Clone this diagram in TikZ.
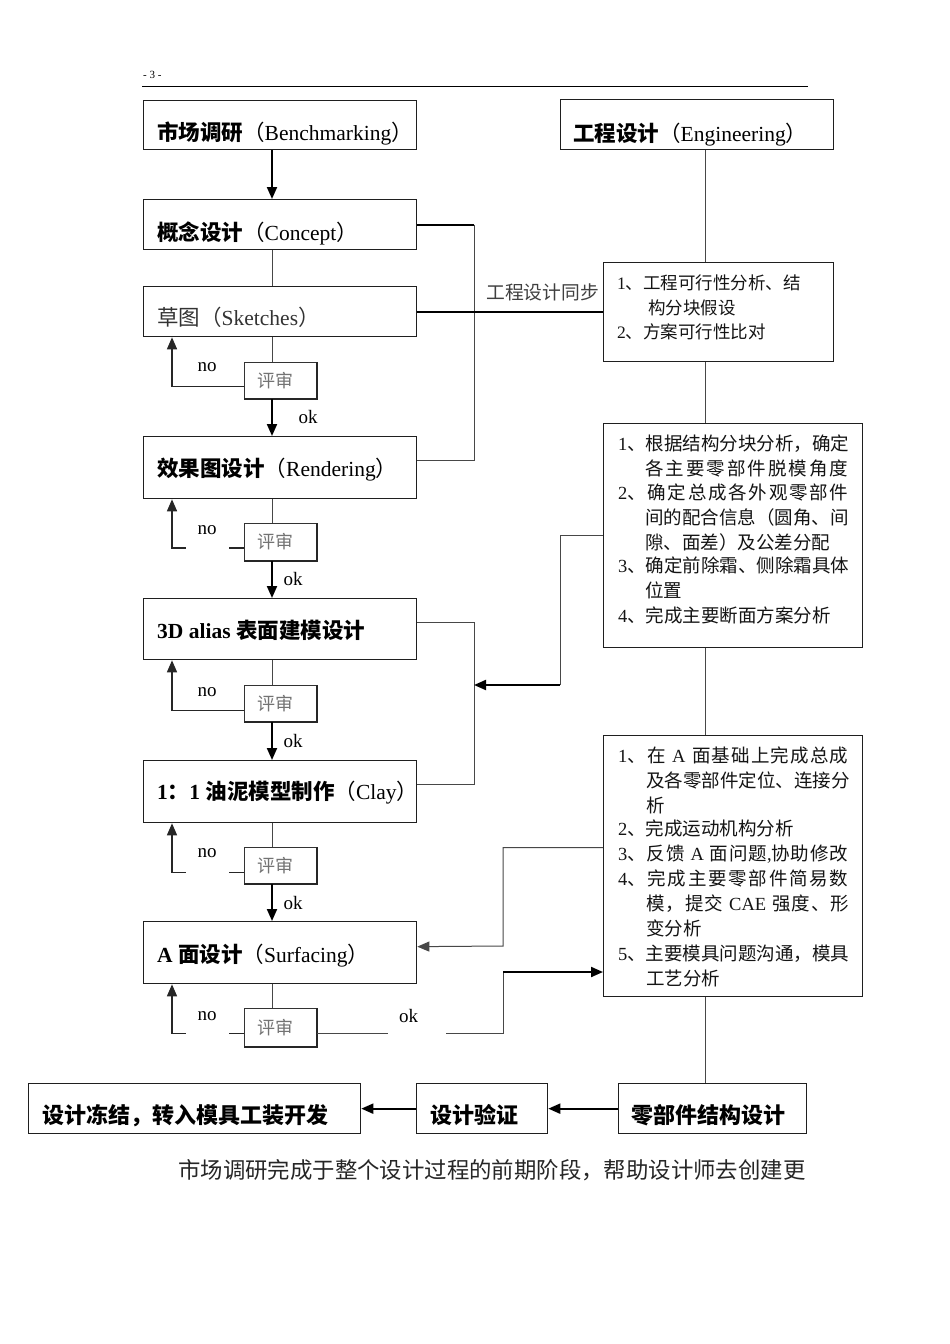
\documentclass[tikz,border=0pt]{standalone}
\usepackage{fontspec}
\setmainfont{Liberation Serif}
\newfontfamily\cjk{Noto Sans CJK SC}
\usetikzlibrary{arrows.meta}
\XeTeXinterchartokenstate=1
\ifdefined\newXeTeXintercharclass
  \newXeTeXintercharclass\cjkcls
\else
  \chardef\cjkcls=7
\fi
\makeatletter
\def\setcls#1#2{\count@=#1\relax\loop\XeTeXcharclass\count@=\cjkcls\ifnum\count@<#2\advance\count@ by 1\repeat}
\makeatother
\setcls{"4E00}{"9FFF}
\setcls{"3000}{"303F}
\setcls{"FF00}{"FFEF}
\XeTeXinterchartoks\cjkcls\cjkcls={\hskip0pt plus 1pt\relax}
\newcommand\latn[1]{{\rmfamily #1}}
\newcommand\jb[2]{\makebox[#1pt][s]{#2}}
\tikzset{
  box/.style={draw=black!88, line width=1.3pt, inner sep=0pt, anchor=north west},
  rvbox/.style={draw=black!80, line width=1pt, inner sep=0pt, anchor=north west,
    font=\cjk\fontsize{18}{20}\selectfont, text=black!55},
  ttl/.style={anchor=base west, inner sep=0pt, font=\fontsize{21.5}{26}\selectfont},
  body/.style={anchor=base west, inner sep=0pt, font=\fontsize{18.5}{22}\selectfont\cjk, text=black!92},
  bodys/.style={anchor=base west, inner sep=0pt, font=\fontsize{17.5}{22}\selectfont\cjk, text=black!92},
  lbl/.style={inner sep=0pt, font=\fontsize{19}{22}\selectfont},
  conn/.style={draw=black!72, line width=1pt},
  thk/.style={draw=black, line width=2pt},
  lp/.style={draw=black!85, line width=1.5pt},
  arr/.style={-{Triangle[length=12pt 0 0,width=10pt 0 0]}},
}
\begin{document}
\begin{tikzpicture}[x=1pt,y=-1pt]
\fill[white] (0,0) rectangle (950,1344);
\useasboundingbox (0,0) rectangle (950,1344);

% header
\node[anchor=west, inner sep=0pt, font=\fontsize{11}{12}\selectfont] (pg) at (143,75) {- 3 -};
\draw[line width=0.8pt] (142,86) -- (808,86);

% guide coordinates
\coordinate (ax) at (272,0);
\coordinate (lx) at (172,0);
\coordinate (bx) at (474,0);
\coordinate (rx) at (705,0);
\coordinate (j1) at (560,685);
\coordinate (j2) at (503,946);
\coordinate (j3) at (503,972);

% left column boxes
\node[box, minimum width=273, minimum height=49] (b1) at (143,100) {};
\node[box, minimum width=273, minimum height=50] (b2) at (143,199) {};
\node[box, minimum width=273, minimum height=50] (b3) at (143,286) {};
\node[box, minimum width=273, minimum height=62] (b4) at (143,436) {};
\node[box, minimum width=273, minimum height=61] (b5) at (143,598) {};
\node[box, minimum width=273, minimum height=62] (b6) at (143,760) {};
\node[box, minimum width=273, minimum height=62] (b7) at (143,921) {};

\node[ttl] (t1) at (157,140) {{\cjk\bfseries 市场调研}{\cjk （}Benchmarking{\cjk ）}};
\node[ttl] (t2) at (157,240) {{\cjk\bfseries 概念设计}{\cjk （}Concept{\cjk ）}};
\node[ttl, text=black!80] (t3) at (157,325) {{\cjk 草图（}Sketches{\cjk ）}};
\node[ttl] (t4) at (157,476) {{\cjk\bfseries 效果图设计}{\cjk （}Rendering{\cjk ）}};
\node[ttl] (t5) at (157,638) {\textbf{3D alias }{\cjk\bfseries 表面建模设计}};
\node[ttl] (t6) at (157,799) {\textbf{1}{\cjk\bfseries ：}\textbf{1 }{\cjk\bfseries 油泥模型制作}{\cjk （}Clay{\cjk ）}};
\node[ttl] (t7) at (157,962) {\textbf{A }{\cjk\bfseries 面设计}{\cjk （}Surfacing{\cjk ）}};

% review boxes
\node[rvbox, minimum width=72, minimum height=36] (r1) at (244,362) {\hspace*{-10pt}评审};
\node[rvbox, minimum width=72, minimum height=37] (r2) at (244,523) {\hspace*{-10pt}评审};
\node[rvbox, minimum width=72, minimum height=36] (r3) at (244,685) {\hspace*{-10pt}评审};
\node[rvbox, minimum width=72, minimum height=36] (r4) at (244,847) {\hspace*{-10pt}评审};
\node[rvbox, minimum width=72, minimum height=38] (r5) at (244,1008) {\hspace*{-10pt}评审};
\foreach \r in {r1,r2,r3,r4,r5}
  \draw[line width=2pt, black!85] (\r.north east) -- (\r.south east) -- (\r.south west);

% right column boxes
\node[box, minimum width=273, minimum height=50] (eng) at (560,99) {};
\node[ttl] (teng) at (573,141) {{\cjk\bfseries 工程设计}{\cjk （}Engineering{\cjk ）}};
\node[box, minimum width=230, minimum height=99] (e1) at (603,262) {};
\node[box, minimum width=259, minimum height=224] (e2) at (603,423) {};
\node[box, minimum width=259, minimum height=261] (e3) at (603,735) {};

\node[bodys] (e1a) at (617,289) {\latn{1}、工程可行性分析、结};
\node[bodys] (e1b) at (648,314) {构分块假设};
\node[bodys] (e1c) at (617,338) {\latn{2}、方案可行性比对};

\node[body] (e2a) at (618,450) {\jb{231}{\latn{1}、根据结构分块分析，确定}};
\node[body] (e2b) at (645,475) {\jb{203}{各主要零部件脱模角度}};
\node[body] (e2c) at (618,499) {\jb{230}{\latn{2}、确定总成各外观零部件}};
\node[body] (e2d) at (645,524) {\jb{203}{间的配合信息（圆角、间}};
\node[body] (e2e) at (645,549) {隙、面差）及公差分配};
\node[body] (e2f) at (618,572) {\jb{231}{\latn{3}、确定前除霜、侧除霜具体}};
\node[body] (e2g) at (645,597) {位置};
\node[body] (e2h) at (618,622) {\latn{4}、完成主要断面方案分析};

\node[body] (e3a) at (618,762) {\jb{230}{\latn{1}、在 \latn{A} 面基础上完成总成}};
\node[body] (e3b) at (646,787) {\jb{203}{及各零部件定位、连接分}};
\node[body] (e3c) at (646,812) {析};
\node[body] (e3d) at (618,835) {\latn{2}、完成运动机构分析};
\node[body] (e3e) at (618,860) {\jb{230}{\latn{3}、反馈 \latn{A} 面问题\latn{,}协助修改}};
\node[body] (e3f) at (618,885) {\jb{230}{\latn{4}、完成主要零部件简易数}};
\node[body] (e3g) at (646,910) {\jb{203}{模，提交 \latn{CAE} 强度、形}};
\node[body] (e3h) at (646,935) {变分析};
\node[body] (e3i) at (618,960) {\jb{231}{\latn{5}、主要模具问题沟通，模具}};
\node[body] (e3j) at (646,985) {工艺分析};

% bottom row
\node[box, minimum width=332, minimum height=50] (f1) at (28,1083) {};
\node[box, minimum width=131, minimum height=50] (f2) at (416,1083) {};
\node[box, minimum width=188, minimum height=50] (f3) at (618,1083) {};
\node[ttl, font=\fontsize{22}{26}\selectfont] (tf1) at (42,1123) {{\cjk\bfseries 设计冻结，转入模具工装开发}};
\node[ttl, font=\fontsize{22}{26}\selectfont] (tf2) at (430,1123) {{\cjk\bfseries 设计验证}};
\node[ttl, font=\fontsize{22}{26}\selectfont] (tf3) at (631,1123) {{\cjk\bfseries 零部件结构设计}};

\node[anchor=base west, inner sep=0pt, font=\cjk\fontsize{22.4}{26}\selectfont, text=black!85] (para) at (178,1178) {市场调研完成于整个设计过程的前期阶段，帮助设计师去创建更};

% main vertical flow
\draw[thk,arr] (b1.south -| ax) -- (b2.north -| ax);
\draw[conn] (b2.south -| ax) -- (b3.north -| ax);
\draw[conn] (b3.south -| ax) -- (r1.north -| ax);
\draw[thk,arr] (r1.south -| ax) -- (b4.north -| ax);
\draw[conn] (b4.south -| ax) -- (r2.north -| ax);
\draw[thk,arr] (r2.south -| ax) -- (b5.north -| ax);
\draw[conn] (b5.south -| ax) -- (r3.north -| ax);
\draw[thk,arr] (r3.south -| ax) -- (b6.north -| ax);
\draw[conn] (b6.south -| ax) -- (r4.north -| ax);
\draw[thk,arr] (r4.south -| ax) -- (b7.north -| ax);
\draw[conn] (b7.south -| ax) -- (r5.north -| ax);

% no loops
\draw[lp,arr] ([yshift=-6]r1.west) -| (b3.south -| lx);
\draw[lp,arr] ([yshift=-6]r2.west) -| (b4.south -| lx);
\draw[lp,arr] ([yshift=-7]r3.west) -| (b5.south -| lx);
\draw[lp,arr] ([yshift=-7]r4.west) -| (b6.south -| lx);
\draw[lp,arr] ([yshift=-6]r5.west) -| (b7.south -| lx);

% labels
\node[lbl] (no1) at (207,367) {no};
\node[lbl, fill=white, minimum width=43, minimum height=42] (no2) at (207,530) {no};
\node[lbl] (no3) at (207,692) {no};
\node[lbl, fill=white, minimum width=43, minimum height=42] (no4) at (207,853) {no};
\node[lbl] (ok1) at (308,417) {ok};
\node[lbl] (ok2) at (293,579) {ok};
\node[lbl] (ok3) at (293,741) {ok};
\node[lbl] (ok4) at (293,903) {ok};

% concept / rendering bracket
\draw[thk] (b2.east) -- (b2.east -| bx);
\draw[conn] (b2.east -| bx) -- ([yshift=7]b4.east -| bx) -- ([yshift=7]b4.east);
% sketches to engineering
\draw[thk] (b3.east) -- (b3.east -| e1.west);
\node[anchor=base west, inner sep=0pt, font=\cjk\fontsize{18.8}{22}\selectfont, text=black!75] (sync) at (486,299) {工程设计同步};

% 3D / clay bracket
\draw[conn] ([yshift=6.5]b5.east) -- ([yshift=6.5]b5.east -| bx) -- ([yshift=7]b6.east -| bx) -- ([yshift=7]b6.east);
\draw[conn] (e2.west) -| (j1);
\draw[thk,arr] (j1) -- (j1 -| bx);

% E3 connections
\draw[conn,arr] ([yshift=18.5]e3.west) -| (j2) -- ([yshift=6]b7.east);
\draw[conn] ([yshift=-6]r5.east) -| (j3);
\draw[thk,arr] (j3) -- (j3 -| e3.west);
\node[lbl, fill=white, minimum width=58, minimum height=42, text width=44, inner xsep=7pt, align=left] (ok5) at (417,1016) {\hspace*{4pt}ok};
\node[lbl, fill=white, minimum width=43, minimum height=42] (no5) at (207,1016) {no};

% right column verticals
\draw[conn] (eng.south -| rx) -- (e1.north -| rx);
\draw[conn] (e1.south -| rx) -- (e2.north -| rx);
\draw[conn] (e2.south -| rx) -- (e3.north -| rx);
\draw[conn] (e3.south -| rx) -- (f3.north -| rx);

% bottom arrows
\draw[thk,arr] (f3.west) -- (f2.east);
\draw[thk,arr] (f2.west) -- (f1.east);
\end{tikzpicture}
\end{document}
